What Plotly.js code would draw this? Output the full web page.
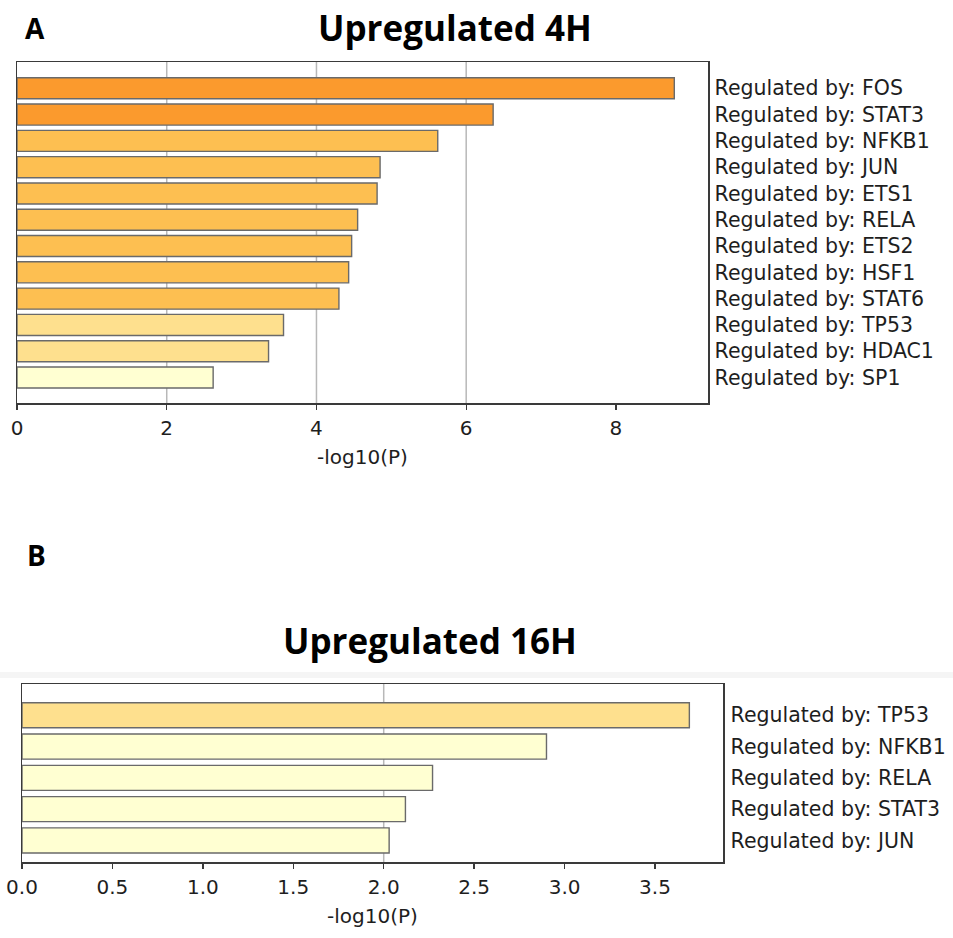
<!DOCTYPE html>
<html>
<head>
<meta charset="utf-8">
<script src="https://cdn.plot.ly/plotly-3.0.1.min.js"></script>
<style>
  html, body { margin: 0; padding: 0; background: #ffffff; }
  #chart { width: 953px; height: 938px; }
</style>
</head>
<body>
<div id="chart"></div>
<script>
// Enrichment of transcriptional regulators, -log10(P)
const topTerms = [
  'Regulated by: FOS', 'Regulated by: STAT3', 'Regulated by: NFKB1',
  'Regulated by: JUN', 'Regulated by: ETS1', 'Regulated by: RELA',
  'Regulated by: ETS2', 'Regulated by: HSF1', 'Regulated by: STAT6',
  'Regulated by: TP53', 'Regulated by: HDAC1', 'Regulated by: SP1'
];
const topValues = [8.78, 6.36, 5.62, 4.85, 4.81, 4.55, 4.47, 4.43, 4.30, 3.56, 3.36, 2.62];

const bottomTerms = [
  'Regulated by: TP53', 'Regulated by: NFKB1', 'Regulated by: RELA',
  'Regulated by: STAT3', 'Regulated by: JUN'
];
const bottomValues = [3.69, 2.90, 2.27, 2.12, 2.03];

const topTickVals = [0, 2, 4, 6, 8];
const topGridVals = [2, 4, 6];
const bottomTickVals = [0, 0.5, 1.0, 1.5, 2.0, 2.5, 3.0, 3.5];
const bottomGridVals = [2.0];

// colour bins by significance
function binColor(v) {
  if (v > 6) return '#fb9a2d';
  if (v > 4) return '#fdbf51';
  if (v > 3) return '#fee08e';
  return '#ffffd2';
}

const W = 953, H = 938;
const px = x => x / W;
const py = y => 1 - y / H;

const barLine = { color: '#6a6a6a', width: 1.4 };

const traces = [
  {
    type: 'bar', orientation: 'h',
    x: topValues, y: topTerms,
    xaxis: 'x', yaxis: 'y',
    width: 0.8,
    marker: { color: topValues.map(binColor), line: barLine },
    hoverinfo: 'skip'
  },
  {
    type: 'bar', orientation: 'h',
    x: bottomValues, y: bottomTerms,
    xaxis: 'x2', yaxis: 'y2',
    width: 0.8,
    marker: { color: bottomValues.map(binColor), line: barLine },
    hoverinfo: 'skip'
  }
];

const tickFont = { family: 'DejaVu Sans', size: 20, color: '#1e1e1e' };
const termFont = { family: 'DejaVu Sans', size: 20.5, color: '#1e1e1e' };
const frame = {
  showline: true, mirror: true, linecolor: '#3a3a3a', linewidth: 1.5,
  zeroline: false, showgrid: false
};

// vertical grid lines spanning the full height of a panel
function gridLines(vals, xref, yref) {
  return vals.map(v => ({
    type: 'line', xref: xref, yref: yref + ' domain',
    x0: v, x1: v, y0: 0, y1: 1,
    line: { color: '#b8b8b8', width: 1.5 }, layer: 'below'
  }));
}

const layout = {
  width: W, height: H,
  margin: { l: 0, r: 0, t: 0, b: 0 },
  paper_bgcolor: '#ffffff', plot_bgcolor: '#ffffff',
  showlegend: false,
  font: { family: 'DejaVu Sans', color: '#1e1e1e' },

  xaxis: Object.assign({}, frame, {
    domain: [px(17), px(708)], anchor: 'y',
    range: [0, 9.23],
    tickmode: 'array', tickvals: topTickVals,
    ticks: 'outside', ticklen: 5, tickwidth: 1.3, tickcolor: '#3a3a3a',
    tickfont: tickFont, ticklabelstandoff: 1,
    title: { text: '-log10(P)', font: { family: 'DejaVu Sans', size: 20, color: '#1e1e1e' }, standoff: 11 }
  }),
  yaxis: Object.assign({}, frame, {
    domain: [py(403), py(62)], anchor: 'x',
    type: 'category', categoryorder: 'array', categoryarray: topTerms,
    range: [11.97, -1.0],
    side: 'right', ticks: '', tickfont: termFont, ticklabelstandoff: 1
  }),

  xaxis2: Object.assign({}, frame, {
    domain: [px(22), px(723)], anchor: 'y2',
    range: [0, 3.876],
    tickmode: 'array', tickvals: bottomTickVals, tickformat: '.1f',
    ticks: 'outside', ticklen: 5, tickwidth: 1.3, tickcolor: '#3a3a3a',
    tickfont: tickFont, ticklabelstandoff: 1,
    title: { text: '-log10(P)', font: { family: 'DejaVu Sans', size: 20, color: '#1e1e1e' }, standoff: 11 }
  }),
  yaxis2: Object.assign({}, frame, {
    domain: [py(862), py(684)], anchor: 'x2',
    type: 'category', categoryorder: 'array', categoryarray: bottomTerms,
    range: [4.69, -1.0],
    side: 'right', ticks: '', tickfont: termFont, ticklabelstandoff: 2
  }),

  shapes: [
    { type: 'rect', xref: 'paper', yref: 'paper', x0: 0, x1: 1,
      y0: py(678), y1: py(672), fillcolor: '#f5f5f5', line: { width: 0 }, layer: 'below' }
  ].concat(gridLines(topGridVals, 'x', 'y'), gridLines(bottomGridVals, 'x2', 'y2')),

  annotations: [
    { text: '<b>A</b>', xref: 'paper', yref: 'paper', x: px(35), y: py(28),
      xanchor: 'center', yanchor: 'middle', showarrow: false,
      font: { family: 'Open Sans', size: 28, color: '#000000' } },
    { text: '<b>Upregulated 4H</b>', xref: 'paper', yref: 'paper', x: px(455), y: py(28),
      xanchor: 'center', yanchor: 'middle', showarrow: false,
      font: { family: 'Open Sans', size: 35, color: '#000000' } },
    { text: '<b>B</b>', xref: 'paper', yref: 'paper', x: px(36), y: py(555),
      xanchor: 'center', yanchor: 'middle', showarrow: false,
      font: { family: 'Open Sans', size: 28, color: '#000000' } },
    { text: '<b>Upregulated 16H</b>', xref: 'paper', yref: 'paper', x: px(430), y: py(640),
      xanchor: 'center', yanchor: 'middle', showarrow: false,
      font: { family: 'Open Sans', size: 35, color: '#000000' } }
  ]
};

Plotly.newPlot('chart', traces, layout, { staticPlot: true, displayModeBar: false });
</script>
</body>
</html>
